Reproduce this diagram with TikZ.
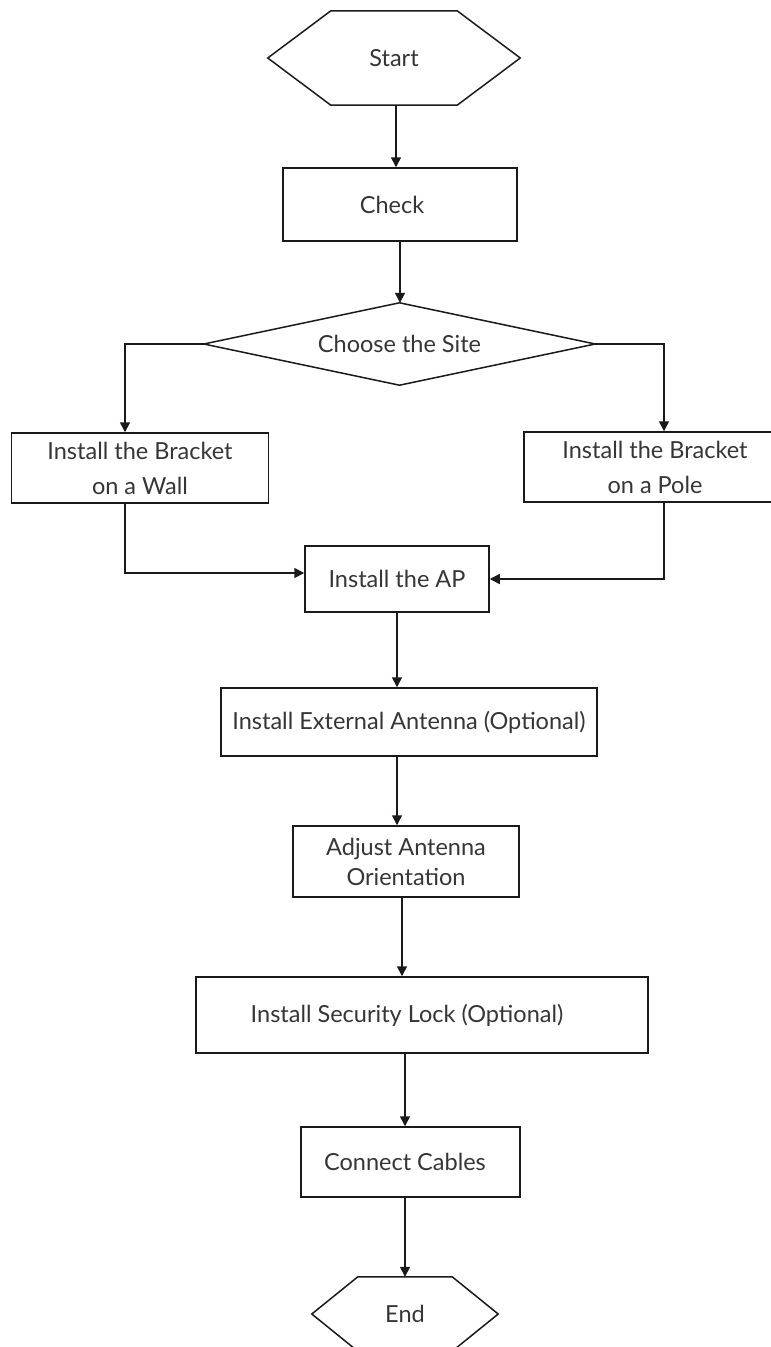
\documentclass[tikz,border=0pt]{standalone}
\usepackage{fontspec}
\setmainfont{Lato}
\usetikzlibrary{arrows.meta,calc}
\definecolor{txt}{HTML}{363636}
\definecolor{edge}{HTML}{1A1A1A}
\begin{document}
\begin{tikzpicture}[x=1pt,y=-1pt,
  every node/.style={font=\fontsize{23.5}{30}\selectfont, text=txt},
  box/.style={draw=edge, line width=1.5pt, rectangle, inner sep=0pt},
  ghost/.style={inner sep=0pt},
  arr/.style={draw=edge, line width=1.5pt, -{Triangle[width=10pt,length=10pt]}},
  shapeline/.style={draw=edge, line width=1.5pt, line join=miter}]
\useasboundingbox (0,0) rectangle (771,1347);
\fill[white] (0,0) rectangle (771,1347);

% Start
\node[ghost, minimum width=252pt, minimum height=94pt] (start) at (394,58) {Start};
\draw[shapeline] (start.west) -- ([xshift=63pt]start.north west) -- ([xshift=-63pt]start.north east) -- (start.east) -- ([xshift=-63pt]start.south east) -- ([xshift=63pt]start.south west) -- cycle;

\node[box, minimum width=234pt, minimum height=73pt] (check) at (400,204.5) {\hspace*{-16pt}Check};

% Decision
\node[ghost, minimum width=391pt, minimum height=82pt] (site) at (399.5,344) {Choose the Site};
\draw[shapeline] (site.north) -- (site.east) -- (site.south) -- (site.west) -- cycle;

\node[box, align=center, minimum width=257pt, minimum height=70pt] (wall) at (140,468) {Install the Bracket\\[5pt]on a Wall};
\node[box, align=center, minimum width=262pt, minimum height=70pt] (pole) at (655,467) {Install the Bracket\\[5pt]on a Pole};

\node[box, minimum width=184pt, minimum height=66pt] (ap) at (397,579) {Install the AP};
\node[box, minimum width=376pt, minimum height=68pt] (ext) at (409,722) {Install External Antenna (Optional)};
\node[box, align=center, minimum width=226pt, minimum height=71pt] (adj) at (406,861.5) {Adjust Antenna\\Orientation};
\node[box, minimum width=452pt, minimum height=76pt] (sec) at (422,1015) {\hspace*{-30pt}Install Security Lock (Optional)};
\node[box, minimum width=219pt, minimum height=70pt] (con) at (410.5,1162) {\hspace*{-11pt}Connect Cables};

% End
\node[ghost, minimum width=186pt, minimum height=74pt] (end) at (405,1314) {End};
\draw[shapeline] (end.west) -- ([xshift=46pt]end.north west) -- ([xshift=-46pt]end.north east) -- (end.east) -- ([xshift=-46pt]end.south east) -- ([xshift=46pt]end.south west) -- cycle;

% connectors
\coordinate (a1) at ([xshift=2pt]start.south);
\draw[arr] (a1) -- (a1 |- check.north);
\draw[arr] (check.south) -- (check.south |- site.north);
\coordinate (wl) at ([xshift=-15pt]wall.north);
\draw[arr] (site.west) -| (wl);
\coordinate (wb) at ([xshift=-15pt]wall.south);
\coordinate (apl) at ([yshift=6pt]ap.west);
\draw[arr] (wb) |- (apl);
\coordinate (pl) at ([xshift=9pt]pole.north);
\draw[arr] (site.east) -| (pl);
\coordinate (pb) at ([xshift=9pt]pole.south);
\draw[arr] (pb) |- (ap.east);
\draw[arr] (ap.south) -- (ap.south |- ext.north);
\draw[arr] (ap.south |- ext.south) -- (ap.south |- adj.north);
\coordinate (a9) at ([xshift=-4pt]adj.south);
\draw[arr] (a9) -- (a9 |- sec.north);
\coordinate (a10) at ([xshift=-5.5pt]con.north);
\draw[arr] (a10 |- sec.south) -- (a10);
\draw[arr] (end.north |- con.south) -- (end.north);
\end{tikzpicture}
\end{document}
